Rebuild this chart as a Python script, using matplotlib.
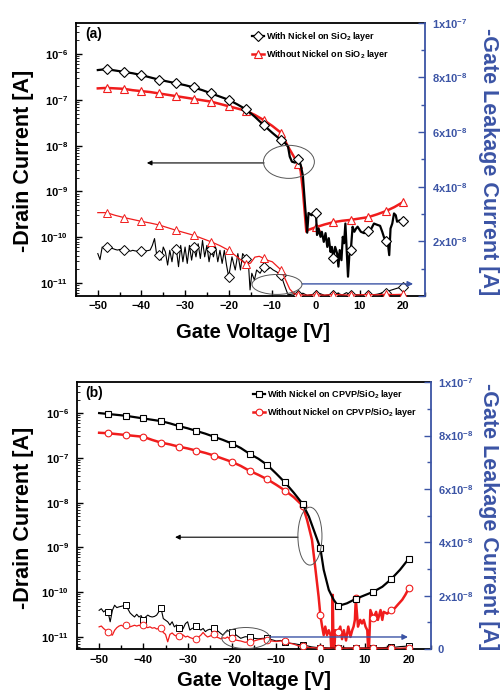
import numpy as np
import matplotlib
matplotlib.use('Agg')
import matplotlib.pyplot as plt
from matplotlib.patches import Ellipse
from matplotlib.lines import Line2D
from matplotlib.ticker import LogLocator, MultipleLocator, FuncFormatter, NullFormatter

plt.rcParams['font.family'] = ['Liberation Sans', 'DejaVu Sans']
plt.rcParams['font.weight'] = 'bold'
plt.rcParams['mathtext.fontset'] = 'custom'
plt.rcParams['mathtext.rm'] = 'Liberation Sans:bold'
plt.rcParams['mathtext.bf'] = 'Liberation Sans:bold'
plt.rcParams['mathtext.it'] = 'Liberation Sans:bold:italic'
plt.rcParams['mathtext.default'] = 'rm'

RED = '#f01c1c'
BLUE = '#3b54a5'

# ---------------- panel (a) data ----------------
# drain current, log10(A)
a_ni_v = [-50, -48, -46, -44, -42, -40, -38, -36, -34, -32, -30, -28, -26, -24, -22, -20, -18, -16, -14, -12,
          -10, -8, -7, -6.4, -6, -5.5, -4.8, -4, -3.5, -3, -2.5, -2, -1.7, -1, -0.5, 0, 0.25, 0.6, 1.05, 1.35,
          1.8, 2.2, 2.6, 2.95, 3.35, 3.65, 4, 4.4, 4.85, 5.15, 5.45, 5.85, 6.15, 6.45, 6.75, 7.05, 7.35, 7.65, 8, 8.4,
          8.8, 9.2, 9.55, 10.3, 11.05, 12, 12.7, 13.3, 14.1, 14.7, 15.2, 15.6, 16, 16.4, 16.8, 17.1, 17.5, 17.9, 18.3, 18.6,
          19.2, 20]
a_ni_id = [-6.35, -6.33, -6.36, -6.39, -6.42, -6.46, -6.51, -6.56, -6.60, -6.64, -6.68, -6.73, -6.79, -6.86, -6.93, -7.00, -7.10, -7.21, -7.37, -7.55,
           -7.72, -7.88, -7.95, -8.02, -8.24, -8.35, -8.37, -8.30, -8.42, -8.65, -9.30, -9.90, -9.47, -9.52, -9.48, -9.48, -9.95, -9.81, -9.99, -9.88,
           -10.10, -9.91, -10.21, -10.02, -10.32, -10.21, -10.46, -10.21, -10.35, -10.64, -10.28, -10.50, -9.99, -10.13, -9.70, -10.28, -10.86, -10.40, -10.28, -9.77,
           -9.88, -9.81, -9.77, -9.88, -9.91, -9.87, -9.81, -9.70, -9.73, -9.75, -9.88, -10.00, -10.08, -10.06, -10.39, -9.81, -9.70, -9.48, -9.52, -9.66,
           -9.63, -9.65]

a_wo_v = [-50, -48, -46, -44, -42, -40, -38, -36, -34, -32, -30, -28, -26, -24, -22, -20, -18, -16, -14, -12,
          -10, -8, -6.4, -5, -4, -3.5, -3, -2.2, -1.8, 0, 2, 4, 6, 8, 10, 12, 14, 16, 18, 20]
a_wo_id = [-6.75, -6.74, -6.75, -6.76, -6.79, -6.81, -6.83, -6.86, -6.89, -6.92, -6.95, -6.98, -7.01, -7.04, -7.09, -7.14, -7.19, -7.24, -7.33, -7.44,
           -7.57, -7.72, -8.02, -8.25, -8.40, -8.55, -8.97, -9.88, -9.84, -9.78, -9.72, -9.67, -9.64, -9.62, -9.59, -9.56, -9.50, -9.43, -9.34, -9.23]

# gate leakage current, units of 1e-8 A
a_ni_vg = [-50, -49.5, -49, -48.5, -48, -47.5, -47, -46.5, -46, -45.5, -45, -44.5, -44, -43.5, -43, -42.5, -42, -41.5, -41, -40.5,
           -40, -39.5, -39, -38.5, -38, -37.5, -37, -36.5, -36, -35.5, -35, -34.5, -34, -33.5, -33, -32.5, -32, -31.5, -31, -30.5,
           -30, -29.5, -29, -28.5, -28, -27.5, -27, -26.5, -26, -25.5, -25, -24.5, -24, -23.5, -23, -22.5, -22, -21.5, -21, -20.5,
           -20, -19.25, -18.5, -17.9, -17.3, -16.8, -16, -15.5, -15.1, -14.7, -14.1, -13.6, -12.8, -12, -11.3, -10.5, -9.8, -9, -8, -7.1,
           -6.4, -5, -4, -3, -2, -1, 0, 1, 2, 3, 4, 5, 6, 7, 8, 9, 10, 11, 12, 13, 14, 15, 16, 17, 18, 19, 20]
a_ni_ig = [1.55, 1.33, 1.79, 1.73, 1.80, 1.77, 1.75, 1.73, 1.70, 1.68, 1.70, 1.70, 1.69, 1.67, 1.66, 1.64, 1.67, 1.65, 1.64, 1.66,
           1.64, 1.64, 1.65, 1.66, 1.68, 1.85, 2.10, 1.49, 1.49, 1.31, 1.79, 1.61, 1.13, 1.67, 1.25, 1.79, 1.72, 1.07, 1.85, 1.25,
           1.79, 1.19, 1.85, 1.31, 1.79, 1.43, 1.91, 1.37, 2.03, 1.43, 1.85, 1.25, 1.72, 1.43, 1.79, 1.25, 1.67, 1.19, 1.67, 1.13,
           0.70, 1.43, 0.95, 1.55, 0.95, 1.55, 1.37, 1.25, 0.22, 0.83, 0.58, 0.95, 0.83, 1.07, 0.95, 1.04, 0.95, 0.88, 0.76, 0.34,
           0.04, 0.08, 0.03, 0.10, 0.02, 0.05, 0.03, 0.08, 0.02, 0.04, 0.02, 0.10, 0.03, 0.12, 0.02, 0.05, 0.04, 0.03, 0.05, 0.04,
           0.06, 0.10, 0.12, 0.20, 0.25, 0.30, 0.34]

a_wo_vg = [-50, -48, -46, -44, -42, -40, -38, -36, -34, -32, -30, -28, -26, -24, -22, -20, -18, -16, -15, -14,
           -13, -12, -11, -10, -9, -8, -7, -6, -5, -4, -2, 0, 2, 4, 6, 8, 10, 12, 14, 16, 18, 20]
a_wo_ig = [3.05, 3.05, 2.95, 2.87, 2.80, 2.73, 2.67, 2.60, 2.50, 2.40, 2.31, 2.22, 2.10, 1.98, 1.84, 1.67, 1.42, 1.16, 1.20, 1.42,
           1.45, 1.38, 1.30, 1.25, 1.10, 0.95, 0.60, 0.25, 0.08, 0.04, 0.03, 0.04, 0.03, 0.05, 0.04, 0.03, 0.04, 0.05, 0.04, 0.06,
           0.05, 0.06]

# ---------------- panel (b) data ----------------
b_ni_v = [-50, -48, -46, -44, -42, -40, -38, -36, -34, -32, -30, -28, -26, -24, -22, -20, -18, -16, -14, -12,
          -10, -8, -6, -4, -2.6, -1.5, 0, 0.75, 1.9, 3, 4, 6, 8, 10, 12, 14, 16, 18, 20]
b_ni_id = [-6.00, -6.02, -6.04, -6.06, -6.09, -6.12, -6.15, -6.18, -6.23, -6.29, -6.34, -6.40, -6.46, -6.53, -6.60, -6.68, -6.78, -6.91, -7.02, -7.16,
           -7.35, -7.55, -7.78, -8.03, -8.31, -8.61, -9.02, -9.50, -9.95, -10.17, -10.31, -10.25, -10.15, -10.07, -9.99, -9.88, -9.71, -9.50, -9.25]

b_wo_v = [-50, -48, -46, -44, -42, -40, -38, -36, -34, -32, -30, -28, -26, -24, -22, -20, -18, -16, -14, -12,
          -10, -8, -6, -4, -3, -1.9, -1.1, -0.4, 0, 0.4, 0.75, 1.1, 1.5, 1.9, 2.3, 2.6, 2.8, 3.0, 3.4, 4,
          4.5, 4.9, 5.3, 5.8, 6.3, 6.8, 7.2, 7.5, 7.8, 8, 8.5, 9.0, 9.4, 9.8, 10.2, 10.6, 10.9, 11.3, 12, 12.6,
          13.0, 13.6, 14.0, 14.3, 15.1, 16, 16.8, 17.5, 18.5, 19.2, 20]
b_wo_id = [-6.44, -6.45, -6.47, -6.49, -6.51, -6.53, -6.60, -6.66, -6.70, -6.75, -6.79, -6.84, -6.89, -6.95, -7.02, -7.09, -7.18, -7.29, -7.38, -7.48,
           -7.60, -7.73, -7.88, -8.07, -8.39, -8.83, -9.50, -10.10, -10.52, -10.77, -10.96, -10.77, -10.96, -10.85, -10.96, -11.50, -10.06, -11.50, -10.85, -10.89,
           -10.77, -11.05, -10.85, -11.08, -10.77, -11.00, -10.85, -10.77, -10.62, -10.14, -10.77, -10.62, -10.70, -10.62, -10.77, -10.85, -11.50, -10.40, -10.58, -10.44,
           -10.62, -10.40, -10.62, -10.44, -10.48, -10.40, -10.36, -10.28, -10.17, -10.06, -9.91]

b_vg = [-50, -49.5, -49, -48.5, -48, -47.5, -47, -46.5, -46, -45.5, -45, -44.5, -44, -43.5, -43, -42.5, -42, -41.5, -41, -40.5,
        -40, -39.5, -39, -38.5, -38, -37.5, -37, -36.5, -36, -35.5, -35, -34.5, -34, -33.5, -33, -32.5, -32, -31.5, -31, -30.5,
        -30, -29.5, -29, -28.5, -28, -27.5, -27, -26.5, -26, -25.5, -25, -24.5, -24, -23.5, -23, -22.5, -22, -21.5, -21, -20.5,
        -20, -19, -18, -17, -16, -15, -14, -13, -12, -11, -10, -9, -8, -7, -6, -5, -4, -3, -2, -1,
        0, 1, 2, 3, 4, 5, 6, 7, 8, 9, 10, 11, 12, 13, 14, 15, 16, 17, 18, 19, 20]
b_ni_ig = [1.45, 1.51, 1.39, 1.45, 1.39, 1.02, 1.45, 1.64, 1.55, 1.58, 1.60, 1.62, 1.64, 1.50, 1.35, 1.27, 1.20, 1.30, 1.20, 1.25,
           1.08, 1.20, 1.27, 1.22, 1.20, 1.22, 1.27, 1.40, 1.52, 1.14, 1.08, 1.02, 0.90, 1.02, 0.83, 0.90, 0.78, 0.65, 0.77, 0.95,
           1.02, 0.71, 0.77, 0.80, 0.88, 0.75, 0.71, 0.77, 0.65, 0.71, 0.74, 0.71, 0.77, 0.71, 0.65, 0.58, 0.52, 0.62, 0.71, 0.65,
           0.64, 0.52, 0.40, 0.46, 0.45, 0.40, 0.38, 0.40, 0.40, 0.35, 0.30, 0.32, 0.27, 0.22, 0.20, 0.17, 0.15, 0.12, 0.08, 0.06,
           0.05, 0.05, 0.04, 0.05, 0.04, 0.05, 0.04, 0.04, 0.05, 0.04, 0.04, 0.05, 0.04, 0.05, 0.05, 0.06, 0.06, 0.07, 0.09, 0.10,
           0.12]
b_wo_ig = [0.83, 0.86, 0.77, 0.70, 0.64, 0.55, 0.52, 0.70, 0.80, 0.86, 0.89, 0.85, 0.89, 0.86, 0.83, 0.86, 0.89, 0.86, 0.89, 0.87,
           0.89, 0.82, 0.80, 0.83, 0.78, 0.80, 0.75, 0.77, 0.77, 0.62, 0.55, 0.27, 0.55, 0.60, 0.52, 0.48, 0.48, 0.55, 0.52, 0.45,
           0.48, 0.43, 0.40, 0.38, 0.36, 0.45, 0.52, 0.62, 0.52, 0.45, 0.48, 0.52, 0.56, 0.45, 0.42, 0.38, 0.42, 0.40, 0.45, 0.38,
           0.40, 0.33, 0.30, 0.25, 0.28, 0.30, 0.35, 0.38, 0.34, 0.30, 0.28, 0.30, 0.30, 0.22, 0.18, 0.12, 0.10, 0.06, 0.05, 0.04,
           0.03, 0.03, 0.03, 0.04, 0.03, 0.03, 0.03, 0.04, 0.03, 0.03, 0.03, 0.03, 0.04, 0.03, 0.03, 0.03, 0.04, 0.03, 0.03, 0.04,
           0.05]

marker_v = [-48, -44, -40, -36, -32, -28, -24, -20, -16, -12, -8, -4, 0, 4, 8, 12, 16, 20]

a_labels = ['With Nickel on SiO$_2$ layer', 'Without Nickel on SiO$_2$ layer']
b_labels = ['With Nickel on CPVP/SiO$_2$ layer', 'Without Nickel on CPVP/SiO$_2$ layer']


def marks(v):
    return [i for i, x in enumerate(v) if x in marker_v]


def left_fmt(v, pos):
    if v <= 0:
        return ''
    return r'$10^{%d}$' % int(round(np.log10(v)))


def right_fmt(show_zero):
    def f(v, pos):
        if abs(v) < 1e-12:
            return '0' if show_zero else ''
        if v < 0:
            return ''
        e = int(np.floor(np.log10(v) + 1e-9))
        m = int(round(v / 10 ** e))
        return r'$%dx10^{%d}$' % (m, e)
    return FuncFormatter(f)


def setup(ax, ax2, show_zero):
    ax.set_yscale('log')
    ax.set_xlim(-55, 25)
    ax.set_ylim(10 ** -11.28, 10 ** -5.32)
    ax.xaxis.set_major_locator(MultipleLocator(10))
    ax.xaxis.set_minor_locator(MultipleLocator(5))
    ax.yaxis.set_major_locator(LogLocator(base=10, numticks=20))
    ax.yaxis.set_minor_locator(LogLocator(base=10, subs=np.arange(2, 10), numticks=20))
    ax.yaxis.set_major_formatter(FuncFormatter(left_fmt))
    ax.yaxis.set_minor_formatter(NullFormatter())
    ax.tick_params(axis='both', which='both', direction='in', labelsize=8, top=False, right=False)
    ax.tick_params(axis='y', which='major', length=4, width=1, pad=6)
    ax.tick_params(axis='y', which='minor', length=2, width=0.6)
    ax.tick_params(axis='x', which='major', length=4, width=1, pad=4)
    ax.tick_params(axis='x', which='minor', length=3, width=1)
    for s in ['left', 'bottom', 'top']:
        ax.spines[s].set_linewidth(1.3)
    ax.spines['right'].set_visible(False)

    ax2.set_ylim(0, 1e-7)
    ax2.yaxis.set_major_locator(MultipleLocator(2e-8))
    ax2.yaxis.set_minor_locator(MultipleLocator(1e-8))
    ax2.yaxis.set_major_formatter(right_fmt(show_zero))
    ax2.tick_params(axis='y', which='both', direction='in', colors=BLUE, labelsize=8, pad=5)
    ax2.tick_params(axis='y', which='major', length=5, width=1)
    ax2.tick_params(axis='y', which='minor', length=3, width=1)
    ax2.spines['right'].set_color(BLUE)
    ax2.spines['right'].set_linewidth(1.3)
    for s in ['left', 'bottom', 'top']:
        ax2.spines[s].set_visible(False)


def legend(ax2, labels, markers, ms, x, y):
    h = [Line2D([], [], color='k', lw=1.6, marker=markers[0], ms=ms[0], mfc='w', mec='k', mew=0.8, markevery=[0]),
         Line2D([], [], color=RED, lw=1.8, marker=markers[1], ms=ms[1], mfc='w', mec=RED, mew=0.8, markevery=[0])]
    ax2.legend(h, labels, loc='upper left', bbox_to_anchor=(x / 500, 1 - y / 693), bbox_transform=fig.transFigure,
               frameon=False, fontsize=6.5, handlelength=1.35, handletextpad=0.25, labelspacing=0.6,
               borderpad=0, borderaxespad=0)


def ellipse_arrows(ax2, e1, a1, e2, a2):
    for (cx, cy, w, hh) in (e1, e2):
        ax2.add_patch(Ellipse((cx, cy), w, hh, transform=ax2.transAxes, fill=False,
                              ec='#555555', lw=0.7, zorder=5))
    ax2.annotate('', xy=(a1[1], a1[2]), xytext=(a1[0], a1[2]), xycoords='axes fraction',
                 arrowprops=dict(arrowstyle='-|>', color='k', lw=0.8, mutation_scale=7, shrinkA=0, shrinkB=0))
    ax2.annotate('', xy=(a2[1], a2[2]), xytext=(a2[0], a2[2]), xycoords='axes fraction',
                 arrowprops=dict(arrowstyle='-|>', color=BLUE, lw=1.0, mutation_scale=8, shrinkA=0, shrinkB=0))


fig = plt.figure(figsize=(5, 6.93), dpi=100)

# ---------- (a) ----------
ax = fig.add_axes([0.152, 0.573, 0.698, 0.394])
ax2 = ax.twinx()
setup(ax, ax2, False)

ax.plot(a_ni_v, 10 ** np.array(a_ni_id), color='k', lw=1.6, marker='D', ms=4.6, mfc='w', mec='k', mew=0.8,
        markevery=marks(a_ni_v), zorder=3)
ax.plot(a_wo_v, 10 ** np.array(a_wo_id), color=RED, lw=1.8, marker='^', ms=5.2, mfc='w', mec=RED, mew=0.8,
        markevery=marks(a_wo_v), zorder=2)
ax2.plot(a_ni_vg, np.array(a_ni_ig) * 1e-8, color='k', lw=0.8, marker='D', ms=4.6, mfc='w', mec='k', mew=0.7,
         markevery=marks(a_ni_vg))
ax2.plot(a_wo_vg, np.array(a_wo_ig) * 1e-8, color=RED, lw=0.9, marker='^', ms=5.2, mfc='w', mec=RED, mew=0.7,
         markevery=marks(a_wo_vg))

legend(ax2, a_labels, ['D', '^'], [4.6, 5.2], 252, 30)
ellipse_arrows(ax2, (0.610, 0.491, 0.146, 0.121), (0.539, 0.203, 0.487),
               (0.576, 0.042, 0.143, 0.073), (0.648, 0.966, 0.044))

fig.text(85 / 500, 1 - 34 / 693, '(a)', fontsize=10, fontweight='bold', va='center')
fig.text(24 / 500, 1 - 161 / 693, '-Drain Current [A]', rotation=90, ha='center', va='center', fontsize=15.5)
fig.text(488 / 500, 1 - 162 / 693, '-Gate Leakage Current [A]', rotation=270, ha='center', va='center',
         fontsize=15.5, color=BLUE)
fig.text(253 / 500, 1 - 338 / 693, 'Gate Voltage [V]', ha='center', va='baseline', fontsize=14.5)

# ---------- (b) ----------
bx = fig.add_axes([0.154, 0.0635, 0.708, 0.385])
bx2 = bx.twinx()
setup(bx, bx2, True)
bx.set_ylim(10 ** -11.27, 10 ** -5.31)

bx.plot(b_ni_v, 10 ** np.array(b_ni_id), color='k', lw=1.6, marker='s', ms=4.3, mfc='w', mec='k', mew=0.8,
        markevery=marks(b_ni_v), zorder=3)
bx.plot(b_wo_v, 10 ** np.array(b_wo_id), color=RED, lw=1.8, marker='o', ms=4.8, mfc='w', mec=RED, mew=0.8,
        markevery=marks(b_wo_v), zorder=2)
bx2.plot(b_vg, np.array(b_ni_ig) * 1e-8, color='k', lw=0.8, marker='s', ms=4.3, mfc='w', mec='k', mew=0.7,
         markevery=marks(b_vg))
bx2.plot(b_vg, np.array(b_wo_ig) * 1e-8, color=RED, lw=0.9, marker='o', ms=4.8, mfc='w', mec=RED, mew=0.7,
         markevery=marks(b_vg))

legend(bx2, b_labels, ['s', 'o'], [4.3, 4.8], 253, 388)
ellipse_arrows(bx2, (0.658, 0.423, 0.068, 0.217), (0.624, 0.277, 0.419),
               (0.477, 0.041, 0.136, 0.079), (0.545, 0.935, 0.045))

fig.text(85 / 500, 1 - 393 / 693, '(b)', fontsize=10, fontweight='bold', va='center')
fig.text(24 / 500, 1 - 518 / 693, '-Drain Current [A]', rotation=90, ha='center', va='center', fontsize=15.5)
fig.text(489 / 500, 1 - 517 / 693, '-Gate Leakage Current [A]', rotation=270, ha='center', va='center',
         fontsize=15.5, color=BLUE)
fig.text(254 / 500, 1 - 686 / 693, 'Gate Voltage [V]', ha='center', va='baseline', fontsize=14.5)

fig.savefig('out.png', dpi=100)
